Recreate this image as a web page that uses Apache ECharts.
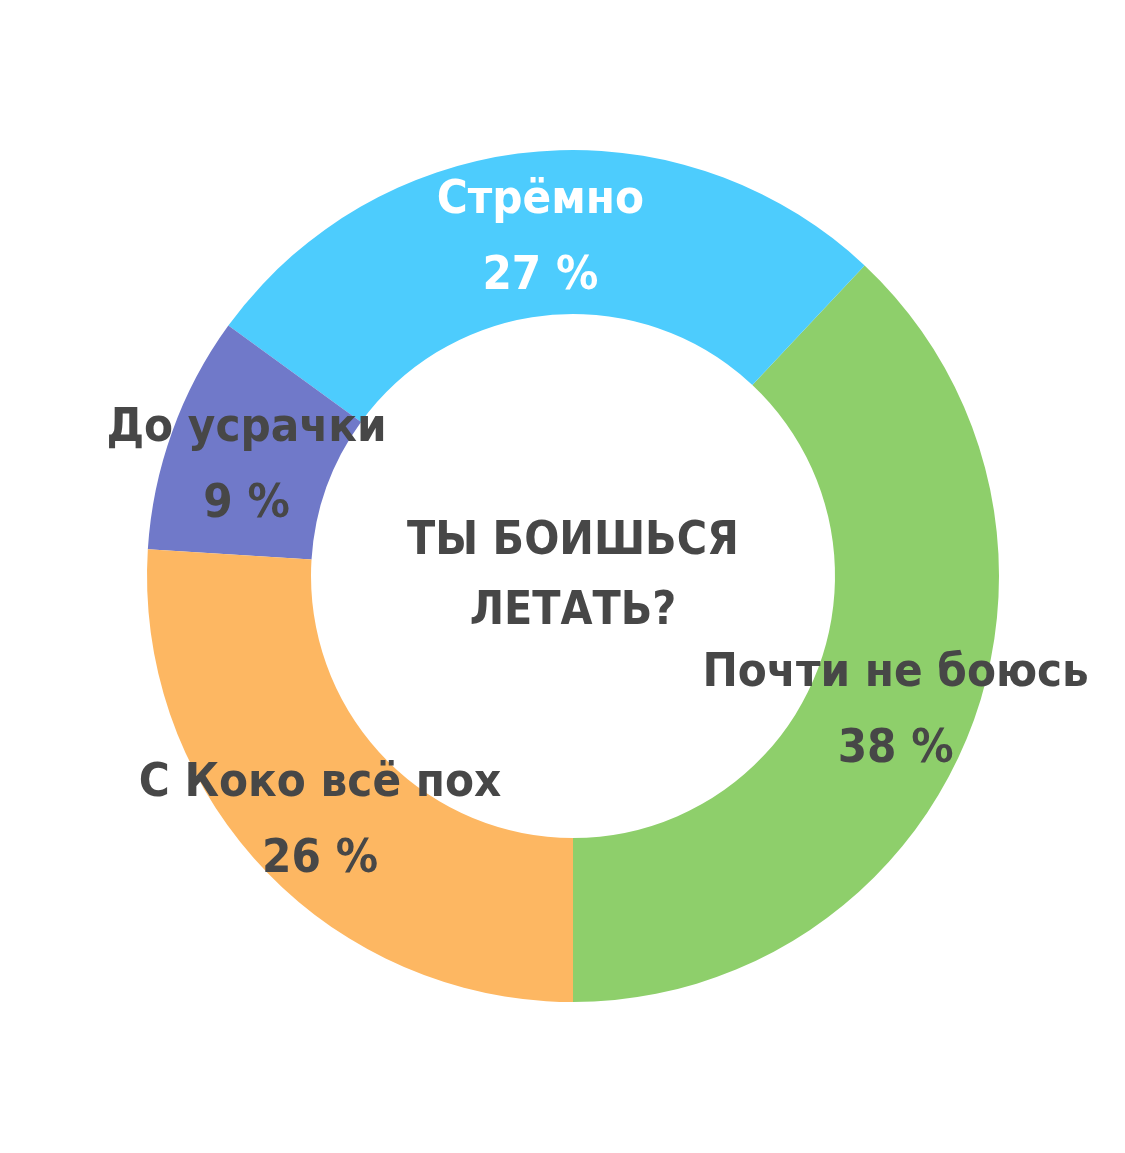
<!DOCTYPE html>
<html><head><meta charset="utf-8">
<script src="https://cdn.jsdelivr.net/npm/echarts@6/dist/echarts.min.js"></script>
<style>html,body{margin:0;padding:0;background:#fff}#c{width:1125px;height:1153px}</style>
</head><body><div id="c"></div>
<script>
const categories = ['Почти не боюсь', 'Стрёмно', 'До усрачки', 'С Коко всё пох'];
const values = [38, 27, 9, 26];
const colors = ['#8ECF6B', '#4DCCFD', '#7079C9', '#FDB762'];
const labelColors = ['#474747', '#ffffff', '#474747', '#474747'];
const centerTitle = 'ТЫ БОИШЬСЯ\nЛЕТАТЬ?';

const FONT = '"DejaVu Sans Condensed", "Liberation Sans Narrow", sans-serif';
const chart = echarts.init(document.getElementById('c'));
chart.setOption({
  backgroundColor: '#ffffff',
  animation: false,
  graphic: [{
    type: 'text', x: 573, y: 577,
    style: {
      text: centerTitle, fill: '#474747', font: 'bold 46px ' + FONT,
      align: 'center', verticalAlign: 'middle', lineHeight: 70
    }
  }],
  series: [{
    type: 'pie',
    center: [573, 576],
    radius: [262, 426],
    startAngle: -90,
    clockwise: false,
    avoidLabelOverlap: false,
    label: {
      show: true, position: 'inside', offset: [0, 8],
      formatter: p => p.name + '\n' + p.value + ' %',
      fontFamily: FONT, fontWeight: 'bold', fontSize: 47, lineHeight: 76
    },
    labelLine: { show: false },
    data: categories.map((c, i) => ({
      name: c, value: values[i],
      itemStyle: { color: colors[i] },
      label: { color: labelColors[i] }
    }))
  }]
});
</script></body></html>
